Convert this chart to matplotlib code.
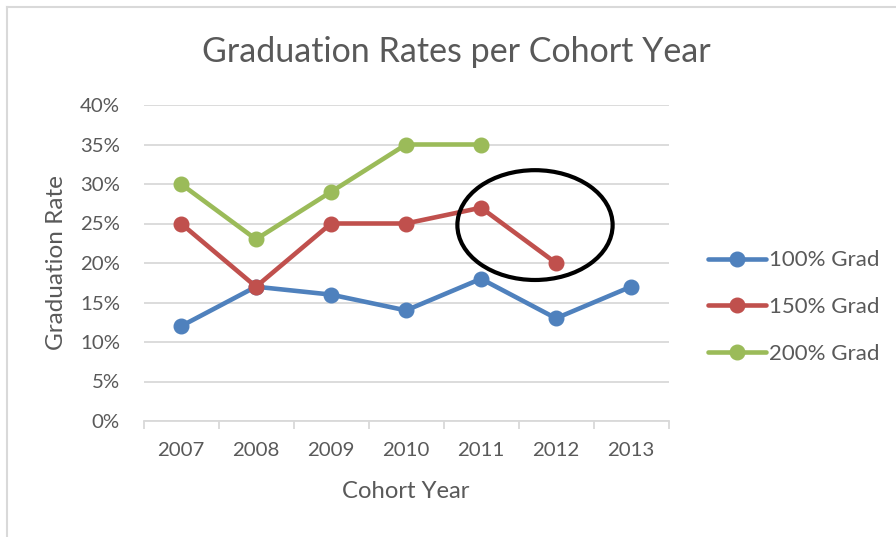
import matplotlib.pyplot as plt
from matplotlib.patches import Ellipse
from matplotlib.ticker import FuncFormatter, FixedLocator
import numpy as np

# Data (percent)
years = ['2007', '2008', '2009', '2010', '2011', '2012', '2013']
grad_100 = [12, 17, 16, 14, 18, 13, 17]
grad_150 = [25, 17, 25, 25, 27, 20]
grad_200 = [30, 23, 29, 35, 35]

series_names = ['100% Grad', '150% Grad', '200% Grad']
colors = ['#4F81BD', '#C0504D', '#9BBB59']
text_color = '#595959'
grid_color = '#D9D9D9'

plt.rcParams['font.family'] = ['Lato', 'DejaVu Sans']

fig = plt.figure(figsize=(8.96, 5.37), dpi=100)
ax = fig.add_axes([143.5 / 896, 116 / 537, 525 / 896, 316 / 537])

x = np.arange(len(years))
for vals, name, c in zip([grad_100, grad_150, grad_200], series_names, colors):
    ax.plot(x[:len(vals)], vals, color=c, lw=3.3, marker='o', markersize=10.5,
            label=name, solid_capstyle='round', zorder=3)

# highlight circle around the 150% drop
ax.add_patch(Ellipse((4.72, 24.8), 2.07, 13.9, fill=False, edgecolor='black',
                     lw=3, zorder=4, clip_on=False))

ax.set_xlim(-0.5, 6.5)
ax.set_ylim(0, 40)
ax.set_yticks(np.arange(0, 41, 5))
ax.yaxis.set_major_formatter(FuncFormatter(lambda v, p: f'{int(v)}%'))
ax.grid(axis='y', color=grid_color, lw=1.3)
ax.set_axisbelow(True)

ax.set_xticks(x)
ax.set_xticklabels(years)
ax.xaxis.set_minor_locator(FixedLocator(np.arange(-0.5, 7, 1)))
ax.tick_params(axis='x', which='major', length=0, pad=15, labelsize=14.7, labelcolor=text_color)
ax.tick_params(axis='x', which='minor', length=6, width=1.3, color=grid_color)
ax.tick_params(axis='y', length=0, pad=17, labelsize=14.7, labelcolor=text_color)

for s in ['top', 'right', 'left']:
    ax.spines[s].set_visible(False)
ax.spines['bottom'].set_color(grid_color)
ax.spines['bottom'].set_linewidth(1.3)

ax.set_xlabel('Cohort Year', fontsize=17.2, color=text_color, labelpad=16)
ax.set_ylabel('Graduation Rate', fontsize=17.5, color=text_color, labelpad=9)
fig.text(456 / 896, 1 - 52 / 537, 'Graduation Rates per Cohort Year', ha='center',
         va='center', fontsize=24.5, color=text_color)

leg = ax.legend(loc='center left', bbox_to_anchor=(699 / 896, 1 - 307 / 537),
                bbox_transform=fig.transFigure, frameon=False, fontsize=16,
                handlelength=2.6, handletextpad=0.15, labelspacing=1.2,
                borderaxespad=0, labelcolor=text_color)

# outer chart border (only top and left visible in the reference)
fig.add_artist(plt.Line2D([6.5 / 896, 1], [1 - 6.5 / 537] * 2, color=grid_color, lw=1.5))
fig.add_artist(plt.Line2D([6.5 / 896] * 2, [0, 1 - 6.5 / 537], color=grid_color, lw=1.5))

fig.savefig('out.png', dpi=100, facecolor='white')
plt.close(fig)
